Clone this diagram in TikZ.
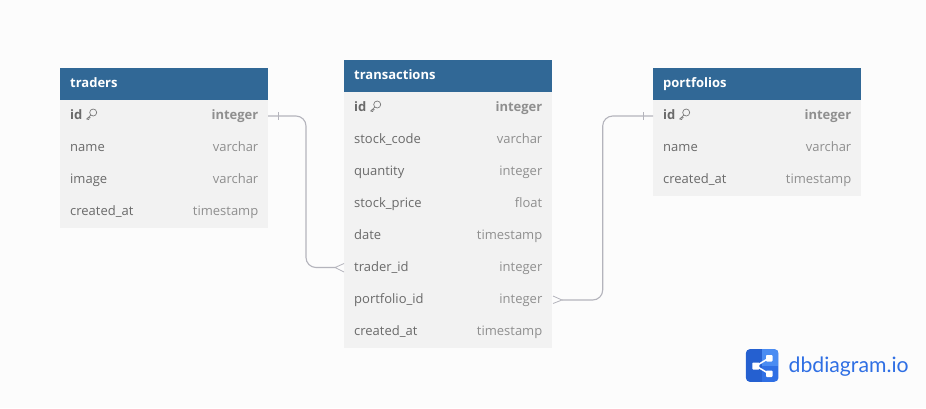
\documentclass[tikz,border=0pt]{standalone}
\usepackage{fontspec}
\setmainfont{Open Sans}
\newfontfamily\logofont{Lato}
\definecolor{headblue}{HTML}{316896}
\definecolor{rowgray}{HTML}{F2F2F2}
\definecolor{pagebg}{HTML}{FCFCFC}
\definecolor{namegray}{HTML}{6A6A6A}
\definecolor{typegray}{HTML}{8F8F8F}
\definecolor{keygray}{HTML}{7A7A7A}
\definecolor{linkgray}{HTML}{B4B4BC}
\definecolor{logoblue}{HTML}{2F6FE4}
\definecolor{logodark}{HTML}{2560D0}
\definecolor{logolight}{HTML}{4A8CF2}
\usetikzlibrary{calc}
\tikzset{
  x=1pt,y=-1pt,
  tablehead/.style={draw=none,fill=headblue,minimum width=208pt,minimum height=32pt,inner sep=0pt,outer sep=0pt,anchor=north west},
  rowbox/.style={draw=none,fill=rowgray,minimum width=208pt,minimum height=32pt,inner sep=0pt,outer sep=0pt,anchor=north west},
  headtext/.style={font=\fontsize{13}{15}\selectfont\bfseries,text=white,anchor=base west,inner sep=0pt},
  nametext/.style={font=\fontsize{13}{15}\selectfont,text=namegray,anchor=base west,inner sep=0pt},
  typetext/.style={font=\fontsize{13}{15}\selectfont,text=typegray,anchor=base east,inner sep=0pt},
  pkname/.style={nametext,font=\fontsize{13}{15}\selectfont\bfseries},
  pktype/.style={typetext,font=\fontsize{13}{15}\selectfont\bfseries},
  link/.style={draw=linkgray,line width=1.1pt,rounded corners=10pt},
  crowline/.style={draw=linkgray,line width=0.8pt},
  keyicon/.style={draw=keygray,line width=0.7pt,line cap=round,line join=round},
}
\newcommand{\keymark}[1]{%
  \begin{scope}[shift={(#1)}]
    \draw[keyicon] (2.2,-3) circle[radius=3.5];
    \draw[keyicon] (-0.2,-0.5) -- (-4.4,3.6) -- (-2.2,4) -- (-2,2.4) -- (-0.6,2.2);
  \end{scope}}
\newcommand{\tablerow}[4]{% id, y, name, type
  \node[rowbox] (#1) at (\tablex,#2) {};
  \node[nametext] (#1-n) at ($(#1.west)+(10,3.5)$) {#3};
  \node[typetext] (#1-t) at ($(#1.east)+(-9.5,3.5)$) {#4};}
\newcommand{\pkrow}[3]{% id, y, type
  \node[rowbox] (#1) at (\tablex,#2) {};
  \node[pkname] (#1-n) at ($(#1.west)+(10,3.5)$) {id};
  \node[pktype] (#1-t) at ($(#1.east)+(-9.5,3.5)$) {#3};
  \keymark{$(#1.west)+(31,-0.5)$}}
\begin{document}
\begin{tikzpicture}
\path[use as bounding box,fill=pagebg] (0,0) rectangle (926,408);

% traders
\def\tablex{60}
\node[tablehead] (traders) at (60,68) {};
\node[headtext] (traders-h) at ($(traders.west)+(10,3.5)$) {traders};
\pkrow{tr-id}{100}{integer}
\tablerow{tr-name}{132}{name}{varchar}
\tablerow{tr-image}{164}{image}{varchar}
\tablerow{tr-created}{196}{created\_at}{timestamp}

% transactions
\def\tablex{344}
\node[tablehead] (transactions) at (344,60) {};
\node[headtext] (transactions-h) at ($(transactions.west)+(10,3.5)$) {transactions};
\pkrow{tx-id}{92}{integer}
\tablerow{tx-code}{124}{stock\_code}{varchar}
\tablerow{tx-qty}{156}{quantity}{integer}
\tablerow{tx-price}{188}{stock\_price}{float}
\tablerow{tx-date}{220}{date}{timestamp}
\tablerow{tx-trader}{252}{trader\_id}{integer}
\tablerow{tx-portfolio}{284}{portfolio\_id}{integer}
\tablerow{tx-created}{316}{created\_at}{timestamp}

% portfolios
\def\tablex{653}
\node[tablehead] (portfolios) at (653,68) {};
\node[headtext] (portfolios-h) at ($(portfolios.west)+(10,3.5)$) {portfolios};
\pkrow{pf-id}{100}{integer}
\tablerow{pf-name}{132}{name}{varchar}
\tablerow{pf-created}{164}{created\_at}{timestamp}

% connectors
\draw[link] (tr-id.east) -- ++(38,0) |- ($(tx-trader.west)+(-9,-0.5)$);
\draw[link] (pf-id.west) -- ++(-50.3,0) |- ($(tx-portfolio.east)+(10,0)$);
% one marks
\draw[crowline] ($(tr-id.east)+(10,-4)$) -- ++(0,8);
\draw[crowline] ($(pf-id.west)+(-10,-4)$) -- ++(0,8);
% crow's feet
\draw[crowline] ($(tx-trader.west)+(0,-4.5)$) -- ($(tx-trader.west)+(-9,-0.5)$) -- ($(tx-trader.west)+(0,4)$);
\draw[crowline] ($(tx-portfolio.east)+(1,-4)$) -- ($(tx-portfolio.east)+(10,0)$) -- ($(tx-portfolio.east)+(1,3.5)$);

% logo
\node[fill=logoblue,rounded corners=4pt,minimum size=32.5pt,inner sep=0pt,outer sep=0pt] (logo) at (762.2,365.5) {};
\begin{scope}
  \clip[rounded corners=4pt] (746,349.2) rectangle (778.5,381.8);
  \fill[logodark] (746,349.2) rectangle (762.2,381.8);
  \fill[logolight] (762.2,349.2) rectangle (778.5,365.5);
\end{scope}
\draw[white,line width=1.5pt] (756,366) -- (769,358) (756,366) -- (769,373.7);
\fill[white,rounded corners=0.8pt] (752.3,362.5) rectangle (759.3,369.5);
\fill[white,rounded corners=0.8pt] (766,355) rectangle (772.5,361.5);
\fill[white,rounded corners=0.8pt] (766,370.5) rectangle (772.5,377);
\node[font=\logofont\fontsize{21.2}{24}\selectfont,text=logoblue,anchor=base west,inner sep=0pt] (logotext) at (788.5,372) {dbdiagram.io};
\end{tikzpicture}
\end{document}
